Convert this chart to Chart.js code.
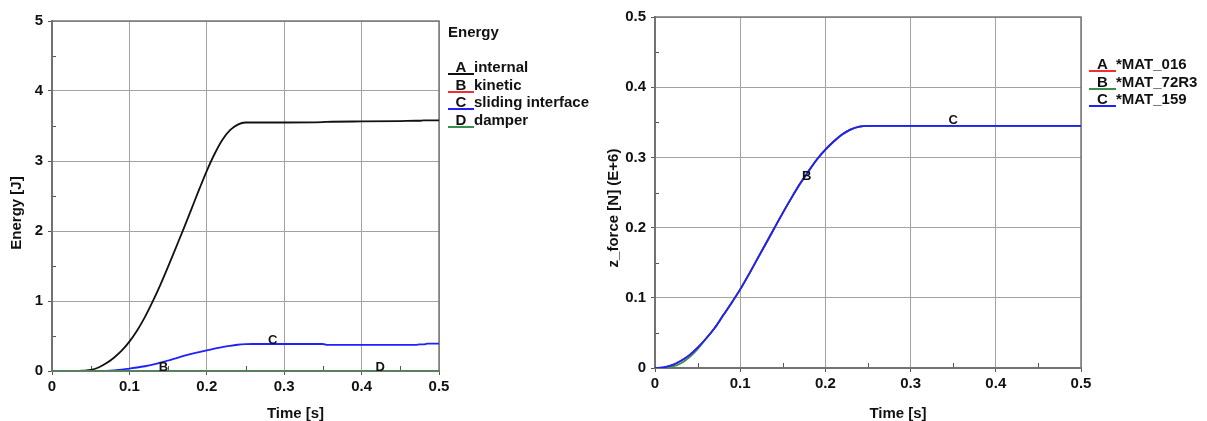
<!DOCTYPE html>
<html>
<head>
<meta charset="utf-8">
<title>Energy and z_force</title>
<script src="https://cdn.jsdelivr.net/npm/chart.js@4.4.1/dist/chart.umd.min.js"></script>
<style>
  body { margin: 0; width: 1207px; height: 421px; overflow: hidden; position: relative; background: #fff;
         font-family: "Liberation Sans", Arial, sans-serif; font-weight: bold; font-size: 15px; color: #111; }
  canvas { position: absolute; top: 0; }
  #energyChart { left: 0; }
  #forceChart { left: 600px; }
  .legend { position: absolute; }
  .row { position: absolute; left: 0; white-space: nowrap; line-height: 13px; }
  .key { display: inline-block; text-align: center; line-height: 13px; border-bottom: 2px solid; }
</style>
</head>
<body>
<canvas id="energyChart" width="470" height="421"></canvas>
<canvas id="forceChart" width="500" height="421"></canvas>

<div class="legend" style="left:448px; top:0;">
  <div class="row" style="top:25px;">Energy</div>
  <div class="row" style="top:60px;"><span class="key" style="width:26px; border-color:#111;">A</span>internal</div>
  <div class="row" style="top:78px;"><span class="key" style="width:26px; border-color:#f03030;">B</span>kinetic</div>
  <div class="row" style="top:95px;"><span class="key" style="width:26px; border-color:#2020ff;">C</span>sliding interface</div>
  <div class="row" style="top:113px;"><span class="key" style="width:26px; border-color:#3a8f4f;">D</span>damper</div>
</div>
<div class="legend" style="left:1089px; top:0;">
  <div class="row" style="top:57px;"><span class="key" style="width:27px; border-color:#f03030;">A</span>*MAT_016</div>
  <div class="row" style="top:75px;"><span class="key" style="width:27px; border-color:#3a8f4f;">B</span>*MAT_72R3</div>
  <div class="row" style="top:92px;"><span class="key" style="width:27px; border-color:#2020ff;">C</span>*MAT_159</div>
</div>

<script>
// left plot: energies over time
const energyTime = [0, 0.03, 0.04, 0.05, 0.06, 0.07, 0.08, 0.09, 0.10, 0.11,
                    0.12, 0.13, 0.14, 0.15, 0.16, 0.17, 0.18, 0.19, 0.20, 0.21,
                    0.22, 0.23, 0.24, 0.25, 0.26, 0.30, 0.35, 0.355, 0.40, 0.45,
                    0.47, 0.475, 0.48, 0.485, 0.50];
const internalEnergy = [0, 0, 0.005, 0.015, 0.05, 0.11, 0.19, 0.29, 0.42, 0.58,
                        0.77, 0.99, 1.23, 1.49, 1.76, 2.03, 2.31, 2.59, 2.86, 3.10,
                        3.30, 3.44, 3.52, 3.55, 3.55, 3.55, 3.555, 3.56, 3.565, 3.57,
                        3.575, 3.575, 3.58, 3.58, 3.58];
const kineticEnergy = [0, 0, 0, 0, 0, 0, 0, 0, 0, 0,
                       0, 0, 0, 0, 0, 0, 0, 0, 0, 0,
                       0, 0, 0, 0, 0, 0, 0, 0, 0, 0,
                       0, 0, 0, 0, 0];
const slidingEnergy = [0, 0, 0, 0, 0, 0.003, 0.01, 0.02, 0.035, 0.05,
                       0.068, 0.09, 0.12, 0.15, 0.18, 0.215, 0.245, 0.27, 0.295, 0.32,
                       0.34, 0.36, 0.375, 0.383, 0.386, 0.386, 0.386, 0.373, 0.373, 0.373,
                       0.373, 0.38, 0.38, 0.39, 0.39];
const damperEnergy = [0, 0, 0, 0, 0, 0, 0, 0, 0, 0,
                      0, 0, 0, 0, 0, 0, 0, 0, 0, 0,
                      0, 0, 0, 0, 0, 0, 0, 0, 0, 0,
                      0, 0, 0, 0, 0];
const energyTicks = [0, 1, 2, 3, 4, 5];

// right plot: z_force (E+6) over time
const forceTime = [0, 0.01, 0.02, 0.03, 0.04, 0.05, 0.06, 0.07, 0.08, 0.09,
                   0.10, 0.11, 0.12, 0.13, 0.14, 0.15, 0.16, 0.17, 0.18, 0.19,
                   0.20, 0.21, 0.22, 0.23, 0.24, 0.25, 0.30, 0.35, 0.40, 0.45, 0.50];
const mat016 = [0, 0.0008, 0.004, 0.010, 0.018, 0.029, 0.042, 0.057, 0.075, 0.093,
                0.112, 0.133, 0.155, 0.177, 0.199, 0.221, 0.242, 0.262, 0.280, 0.297,
                0.311, 0.323, 0.333, 0.340, 0.344, 0.345, 0.345, 0.345, 0.345, 0.345, 0.345];
const mat72r3 = [0, 0.0003, 0.0018, 0.0065, 0.015, 0.027, 0.042, 0.057, 0.075, 0.093,
                 0.112, 0.133, 0.155, 0.177, 0.199, 0.221, 0.242, 0.262, 0.280, 0.297,
                 0.311, 0.323, 0.333, 0.340, 0.344, 0.345, 0.345, 0.345, 0.345, 0.345, 0.345];
const mat159 = [0, 0.0008, 0.004, 0.010, 0.018, 0.029, 0.042, 0.057, 0.075, 0.093,
                0.112, 0.133, 0.155, 0.177, 0.199, 0.221, 0.242, 0.262, 0.280, 0.297,
                0.311, 0.323, 0.333, 0.340, 0.344, 0.345, 0.345, 0.345, 0.345, 0.345, 0.345];
const forceTicks = [0, 0.1, 0.2, 0.3, 0.4, 0.5];
const timeTicks = [0, 0.1, 0.2, 0.3, 0.4, 0.5];

// curve letters, anchored in data coordinates
const energyMarks = [{ text: 'B', t: 0.144, v: 0 }, { text: 'C', t: 0.285, v: 0.39 }, { text: 'D', t: 0.424, v: 0 }];
const forceMarks = [{ text: 'B', t: 0.178, v: 0.268 }, { text: 'C', t: 0.350, v: 0.3476 }];

Chart.defaults.font.family = '"Liberation Sans", Arial, sans-serif';
Chart.defaults.font.weight = 'bold';
Chart.defaults.font.size = 15;
Chart.defaults.color = '#111';

function toPoints(times, values) {
    return times.map((t, i) => ({ x: t, y: values[i] }));
}

// minor ticks, frame, axis titles and curve letters
const decoPlugin = {
    id: 'deco',
    beforeDatasetsDraw(chart) {
        const { ctx, chartArea: a, scales: { x, y } } = chart;
        ctx.save();
        ctx.strokeStyle = '#555';
        ctx.lineWidth = 1;
        ctx.beginPath();
        for (let i = 0; i < x.ticks.length - 1; i++) {
            const px = Math.round(x.getPixelForValue((x.ticks[i].value + x.ticks[i + 1].value) / 2)) + 0.5;
            ctx.moveTo(px, a.bottom);
            ctx.lineTo(px, a.bottom - 5);
        }
        for (let i = 0; i < y.ticks.length - 1; i++) {
            const py = Math.round(y.getPixelForValue((y.ticks[i].value + y.ticks[i + 1].value) / 2)) + 0.5;
            ctx.moveTo(a.left, py);
            ctx.lineTo(a.left + 4, py);
        }
        ctx.stroke();
        ctx.strokeStyle = '#777';
        ctx.lineWidth = 1.5;
        ctx.strokeRect(a.left, a.top, a.right - a.left, a.bottom - a.top);
        ctx.restore();
    },
    afterDraw(chart, args, opts) {
        const { ctx, scales: { x, y } } = chart;
        ctx.save();
        ctx.fillStyle = '#111';
        ctx.font = 'bold 15px "Liberation Sans", Arial, sans-serif';
        ctx.textAlign = 'center';
        ctx.textBaseline = 'alphabetic';
        ctx.fillText(opts.xTitle.text, opts.xTitle.x, opts.xTitle.y);
        ctx.translate(opts.yTitle.x, opts.yTitle.y);
        ctx.rotate(-Math.PI / 2);
        ctx.fillText(opts.yTitle.text, 0, 0);
        ctx.setTransform(1, 0, 0, 1, 0, 0);
        ctx.font = 'bold 13px "Liberation Sans", Arial, sans-serif';
        opts.marks.forEach(m => {
            ctx.fillText(m.text, x.getPixelForValue(m.t), y.getPixelForValue(m.v));
        });
        ctx.restore();
    }
};

function axis(min, max, ticks, size, isX) {
    return {
        type: 'linear',
        min: min,
        max: max,
        afterBuildTicks: scale => { scale.ticks = ticks.map(v => ({ value: v })); },
        afterFit: scale => { if (isX) scale.height = size; else scale.width = size; },
        ticks: { padding: isX ? 3 : 5, color: '#111', font: { size: 15, weight: 'bold' } },
        grid: { color: '#a3a3a3', lineWidth: 1, tickLength: 4, tickColor: '#555' },
        border: { color: '#666', width: 2 }
    };
}

function lineSet(label, times, values, color, order) {
    return {
        label: label,
        data: toPoints(times, values),
        borderColor: color,
        borderWidth: 1.8,
        pointRadius: 0,
        cubicInterpolationMode: 'monotone',
        order: order
    };
}

const commonOptions = {
    responsive: false,
    animation: false,
    devicePixelRatio: 1,
    events: []
};

new Chart(document.getElementById('energyChart').getContext('2d'), {
    type: 'line',
    data: {
        datasets: [
            lineSet('internal', energyTime, internalEnergy, '#111111', 3),
            lineSet('kinetic', energyTime, kineticEnergy, '#f03030', 2),
            lineSet('sliding interface', energyTime, slidingEnergy, '#2020ff', 1),
            lineSet('damper', energyTime, damperEnergy, '#3a8f4f', 0)
        ]
    },
    options: Object.assign({}, commonOptions, {
        layout: { padding: { top: 21, right: 31, left: 0, bottom: 0 } },
        scales: {
            x: axis(0, 0.5, timeTicks, 50, true),
            y: axis(0, 5, energyTicks, 52, false)
        },
        plugins: {
            legend: { display: false },
            tooltip: { enabled: false },
            deco: {
                xTitle: { text: 'Time [s]', x: 295.5, y: 418 },
                yTitle: { text: 'Energy [J]', x: 20.5, y: 213 },
                marks: energyMarks
            }
        }
    }),
    plugins: [decoPlugin]
});

new Chart(document.getElementById('forceChart').getContext('2d'), {
    type: 'line',
    data: {
        datasets: [
            lineSet('*MAT_016', forceTime, mat016, '#f03030', 2),
            lineSet('*MAT_72R3', forceTime, mat72r3, '#3a8f4f', 1),
            lineSet('*MAT_159', forceTime, mat159, '#2020ff', 0)
        ]
    },
    options: Object.assign({}, commonOptions, {
        layout: { padding: { top: 17, right: 19, left: 0, bottom: 0 } },
        scales: {
            x: axis(0, 0.5, timeTicks, 53, true),
            y: axis(0, 0.5, forceTicks, 55, false)
        },
        plugins: {
            legend: { display: false },
            tooltip: { enabled: false },
            deco: {
                xTitle: { text: 'Time [s]', x: 298, y: 418 },
                yTitle: { text: 'z_force [N] (E+6)', x: 18.3, y: 208 },
                marks: forceMarks
            }
        }
    }),
    plugins: [decoPlugin]
});
</script>
</body>
</html>
